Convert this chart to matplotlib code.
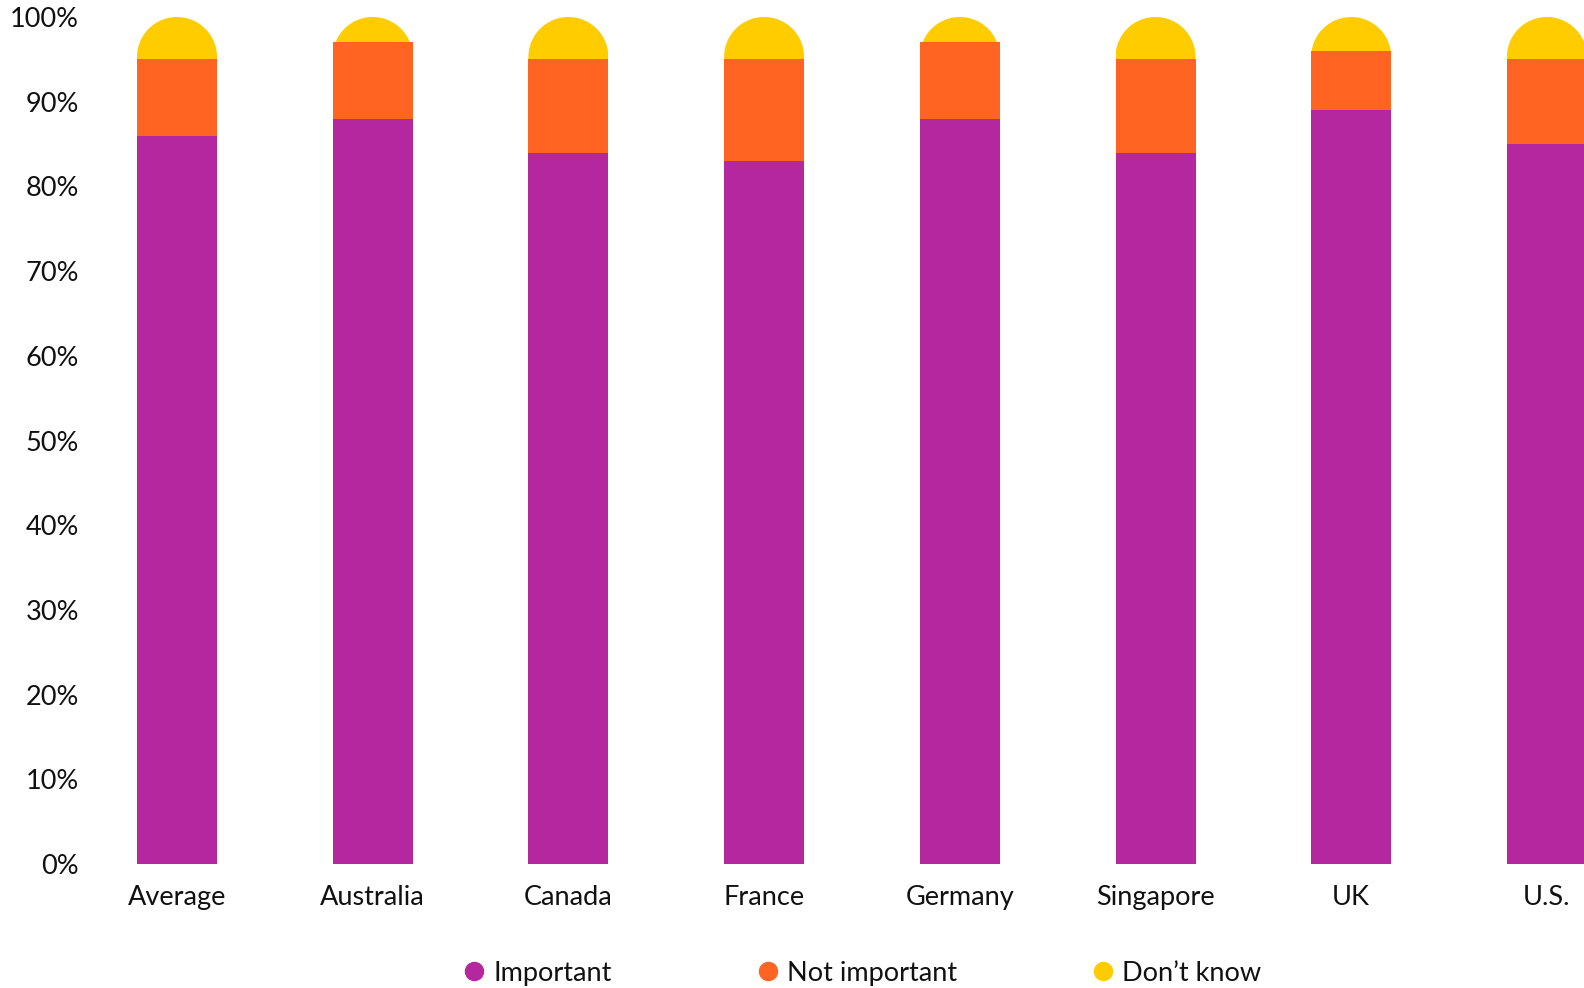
import matplotlib
matplotlib.use("Agg")
import matplotlib.pyplot as plt
import numpy as np
from matplotlib.path import Path
from matplotlib.patches import PathPatch
from matplotlib.lines import Line2D

# Survey shares (%) per market
categories = ["Average", "Australia", "Canada", "France", "Germany", "Singapore", "UK", "U.S."]
important = [86, 88, 84, 83, 88, 84, 89, 85]
not_important = [9, 9, 11, 12, 9, 11, 7, 10]
dont_know = [5, 3, 5, 5, 3, 5, 4, 5]
series_labels = ["Important", "Not important", "Don\u2019t know"]
y_ticks = [0, 10, 20, 30, 40, 50, 60, 70, 80, 90, 100]

PURPLE = "#B5279F"
ORANGE = "#FF6422"
YELLOW = "#FFCC00"
TEXT = "#111111"
series_colors = [PURPLE, ORANGE, YELLOW]

plt.rcParams["font.family"] = ["Lato", "DejaVu Sans"]

W, H = 1584, 988
fig = plt.figure(figsize=(W / 100, H / 100), dpi=100)
fig.patch.set_facecolor("white")

# axes placed in pixel terms: left edge, bottom (0%) and top (100%) rows
ax_left, ax_bottom, ax_top = 100, 864, 17
ax = fig.add_axes([ax_left / W, (H - ax_bottom) / H,
                   1 - ax_left / W, (ax_bottom - ax_top) / H])

step_px = 195.7          # horizontal distance between category centres
first_px = 177           # centre of first category
xmin = -(first_px - ax_left) / step_px
xmax = xmin + (W - ax_left) / step_px
ax.set_xlim(xmin, xmax)
ax.set_ylim(0, 100)

x = np.arange(len(categories))
imp = np.array(important, dtype=float)
ni = np.array(not_important, dtype=float)
dk = np.array(dont_know, dtype=float)
bar_w = 80 / step_px

# "Don't know" sits on top with a rounded cap, under the other two segments
yellow_bars = ax.bar(x, dk, bar_w, bottom=imp + ni, color=YELLOW, zorder=1, linewidth=0)
ax.bar(x, imp, bar_w, color=PURPLE, zorder=2, linewidth=0)
ax.bar(x, ni, bar_w, bottom=imp, color=ORANGE, zorder=2, linewidth=0)

# round the top of the yellow segment: a semicircle of half the bar width
p0 = ax.transData.transform((0, 0))
px_per_x = ax.transData.transform((1, 0))[0] - p0[0]
px_per_y = ax.transData.transform((0, 1))[1] - p0[1]
rx = bar_w / 2
ry = rx * px_per_x / px_per_y
theta = np.linspace(np.pi, 0, 80)
for xi, patch in zip(x, yellow_bars.patches):
    top = patch.get_y() + patch.get_height()
    arc = [(xi + rx * np.cos(t), top - ry + ry * np.sin(t)) for t in theta]
    verts = [(xi - rx, 0)] + arc + [(xi + rx, 0), (xi - rx, 0)]
    codes = [Path.MOVETO] + [Path.LINETO] * (len(verts) - 2) + [Path.CLOSEPOLY]
    clip = PathPatch(Path(verts, codes), transform=ax.transData)
    patch.set_clip_path(clip)

ax.set_xticks(x)
ax.set_xticklabels(categories)
ax.set_yticks(y_ticks)
ax.set_yticklabels([f"{v}%" for v in y_ticks])
ax.tick_params(axis="both", length=0, labelsize=19.5, colors=TEXT)
ax.tick_params(axis="y", pad=15)
ax.tick_params(axis="x", pad=15)
for s in ax.spines.values():
    s.set_visible(False)
ax.set_facecolor("white")

# legend row along the bottom
marker_px = [474, 768, 1103]
legend_y = 971
for mx, lab, col in zip(marker_px, series_labels, series_colors):
    fig.add_artist(Line2D([mx / W], [(H - legend_y) / H], transform=fig.transFigure,
                          marker="o", markersize=13, color=col, linestyle="none"))
    fig.text((mx + 19) / W, (H - legend_y - 9.6) / H, lab, fontsize=19.5,
             color=TEXT, ha="left", va="baseline")

fig.savefig("out.png", dpi=100, facecolor="white")
